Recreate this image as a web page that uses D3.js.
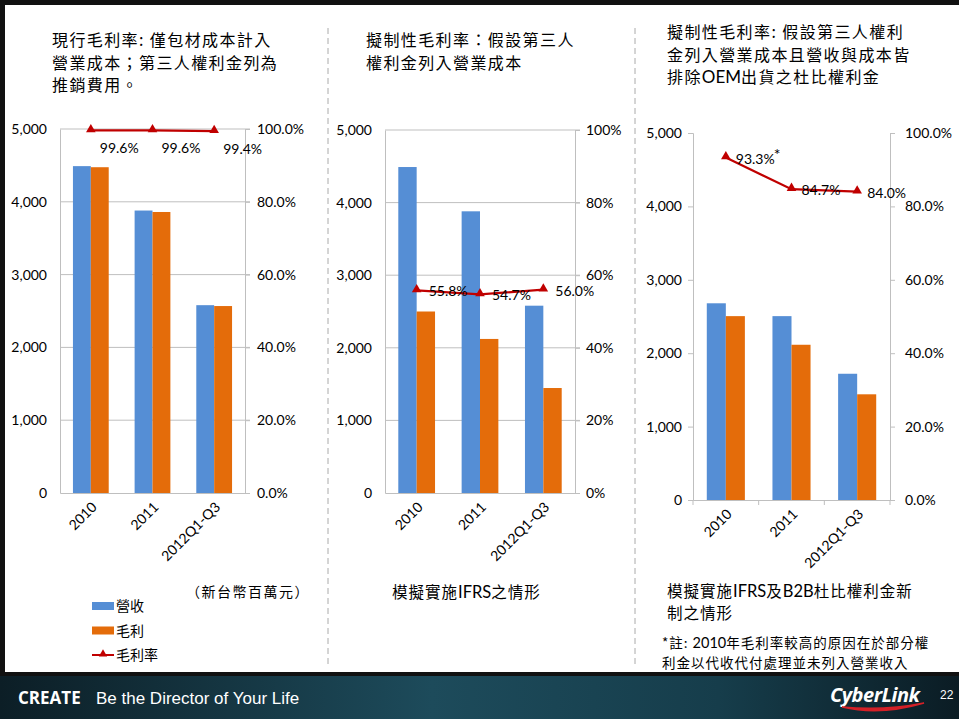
<!DOCTYPE html>
<html>
<head>
<meta charset="utf-8">
<script src="https://cdn.jsdelivr.net/npm/d3@7"></script>
<style>
  body { margin: 0; background: #fff; }
  svg { display: block; }
  .cjk { font-family: "Noto Sans CJK TC", "Noto Sans", sans-serif; }
  .num { font-family: Lato, "Open Sans", sans-serif; }
</style>
</head>
<body>
<div id="chart"></div>
<script>
// ---- data ----
var categories = ['2010', '2011', '2012Q1-Q3'];

var revenue1 = [4490, 3880, 2580];
var profit1 = [4475, 3860, 2568];
var rate1 = [0.996, 0.996, 0.994];
var rateLabels1 = ['99.6%', '99.6%', '99.4%'];

var revenue2 = [4490, 3880, 2580];
var profit2 = [2500, 2122, 1446];
var rate2 = [0.558, 0.547, 0.560];
var rateLabels2 = ['55.8%', '54.7%', '56.0%'];

var revenue3 = [2680, 2505, 1720];
var profit3 = [2505, 2115, 1440];
var rate3 = [0.933, 0.847, 0.840];
var rateLabels3 = ['93.3%', '84.7%', '84.0%'];

var leftTicks = [0, 1000, 2000, 3000, 4000, 5000];
var rightTicks = [0, 0.2, 0.4, 0.6, 0.8, 1.0];

var blue = '#558ED5', orange = '#E46C0A', red = '#C00000';

var svg = d3.select('#chart').append('svg')
  .attr('width', 959)
  .attr('height', 719);

svg.append('rect').attr('width', 959).attr('height', 719).attr('fill', '#fff');

// slide frame
svg.append('rect').attr('x', 0).attr('y', 0).attr('width', 959).attr('height', 5).attr('fill', '#111');
svg.append('rect').attr('x', 0).attr('y', 0).attr('width', 5).attr('height', 719).attr('fill', '#111');

// dashed separators
[328, 635].forEach(function (x) {
  svg.append('line')
    .attr('x1', x).attr('x2', x).attr('y1', 28).attr('y2', 668)
    .attr('stroke', '#aaa').attr('stroke-dasharray', '6,4');
});

function drawChart(cfg) {
  var g = svg.append('g');

  var x = d3.scaleBand().domain(categories)
    .range([cfg.x0, cfg.x1]).paddingInner(0.42).paddingOuter(0.21);
  var xs = d3.scaleBand().domain(['rev', 'gp']).range([0, x.bandwidth()]);
  var xc = d3.scalePoint().domain(categories).range([cfg.x0, cfg.x1]).padding(0.5);

  var y = d3.scaleLinear().domain([0, 5000]).range([cfg.yBot, cfg.yTop]);
  var y2 = d3.scaleLinear().domain([0, 1]).range([cfg.yBot, cfg.yTop]);

  if (cfg.grid) {
    g.selectAll('.grid').data(leftTicks.slice(1)).enter().append('line')
      .attr('x1', cfg.x0).attr('x2', cfg.x1 + 5)
      .attr('y1', function (d) { return y(d); }).attr('y2', function (d) { return y(d); })
      .attr('stroke', '#bfbfbf');
  }

  // left axis
  var la = g.append('g').attr('transform', 'translate(' + cfg.x0 + ',0)')
    .call(d3.axisLeft(y).tickValues(leftTicks).tickFormat(d3.format(',')).tickSize(cfg.grid ? 0 : 5).tickPadding(cfg.leftPad));
  la.select('.domain').attr('stroke', '#bfbfbf');
  la.selectAll('.tick line').attr('stroke', '#bfbfbf');
  la.selectAll('text').attr('class', 'num').style('font-size', '14px').attr('fill', '#000');

  // right axis
  var ra = g.append('g').attr('transform', 'translate(' + cfg.x1 + ',0)')
    .call(d3.axisRight(y2).tickValues(rightTicks).tickFormat(d3.format(cfg.rFmt)).tickSize(5).tickPadding(cfg.rightPad));
  ra.select('.domain').attr('stroke', '#bfbfbf');
  ra.selectAll('.tick line').attr('stroke', '#bfbfbf');
  ra.selectAll('text').attr('class', 'num').style('font-size', '14px').attr('fill', '#000');

  // bars
  categories.forEach(function (c, i) {
    g.append('rect').attr('x', x(c) + xs('rev')).attr('width', xs.bandwidth())
      .attr('y', y(cfg.rev[i])).attr('height', y(0) - y(cfg.rev[i])).attr('fill', blue);
    g.append('rect').attr('x', x(c) + xs('gp')).attr('width', xs.bandwidth())
      .attr('y', y(cfg.gp[i])).attr('height', y(0) - y(cfg.gp[i])).attr('fill', orange);
  });

  // x axis
  var xa = g.append('g').attr('transform', 'translate(0,' + cfg.yBot + ')')
    .call(d3.axisBottom(x).tickSize(0).tickPadding(0).tickFormat(''));
  xa.select('.domain').attr('stroke', '#bfbfbf');
  var step = x.step();
  if (cfg.xTicks) {
    d3.range(4).forEach(function (k) {
      g.append('line').attr('x1', cfg.x0 + k * step).attr('x2', cfg.x0 + k * step)
        .attr('y1', cfg.yBot).attr('y2', cfg.yBot + 5).attr('stroke', '#bfbfbf');
    });
  }
  g.selectAll('.xl').data(categories).enter().append('text')
    .attr('class', 'num').style('font-size', '14px')
    .attr('text-anchor', 'end')
    .attr('transform', function (d) {
      return 'translate(' + (xc(d) + 7) + ',' + (cfg.yBot + 15) + ') rotate(-45)';
    })
    .text(function (d) { return d; });

  // rate line
  var line = d3.line().x(function (d, i) { return xc(categories[i]); }).y(function (d) { return y2(d); });
  g.append('path').datum(cfg.rate).attr('d', line)
    .attr('fill', 'none').attr('stroke', red).attr('stroke-width', 2.2);
  g.selectAll('.mk').data(cfg.rate).enter().append('path')
    .attr('d', d3.symbol().type(d3.symbolTriangle).size(40))
    .attr('transform', function (d, i) { return 'translate(' + xc(categories[i]) + ',' + (y2(d) - 1) + ')'; })
    .attr('fill', red);
  g.selectAll('.dl').data(cfg.rate).enter().append('text')
    .attr('class', 'num').style('font-size', '14px')
    .attr('x', function (d, i) { return xc(categories[i]) + cfg.ldx; })
    .attr('y', function (d) { return y2(d) + cfg.ldy; })
    .text(function (d, i) { return cfg.labels[i]; });

  return { xc: xc, y2: y2 };
}

drawChart({ x0: 60, x1: 245, yTop: 129, yBot: 493, grid: true, leftPad: 13, rightPad: 7, rFmt: '.1%',
  rev: revenue1, gp: profit1, rate: rate1, labels: rateLabels1, ldx: 9, ldy: 23, xTicks: false });
drawChart({ x0: 385, x1: 575, yTop: 130, yBot: 493, grid: true, leftPad: 13, rightPad: 6, rFmt: '.0%',
  rev: revenue2, gp: profit2, rate: rate2, labels: rateLabels2, ldx: 12, ldy: 6, xTicks: false });
var c3 = drawChart({ x0: 693, x1: 890, yTop: 133, yBot: 500, grid: false, leftPad: 6, rightPad: 10, rFmt: '.1%',
  rev: revenue3, gp: profit3, rate: rate3, labels: rateLabels3, ldx: 10, ldy: 6, xTicks: true });

// asterisk on first label of chart 3
svg.append('text').attr('class', 'num').style('font-size', '16px')
  .attr('x', c3.xc(categories[0]) + 48).attr('y', c3.y2(rate3[0]) + 2).text('*');

// titles: letter-spacing only on CJK runs, Latin runs stay tight
function lines(txt, x, y0, dy, size, ls) {
  txt.forEach(function (t, i) {
    var el = svg.append('text').attr('class', 'cjk').style('font-size', size + 'px')
      .attr('x', x).attr('y', y0 + i * dy).attr('fill', '#000');
    var runs = t.match(/[A-Za-z0-9]+|[^A-Za-z0-9]+/g);
    runs.forEach(function (r) {
      var latin = /^[A-Za-z0-9]+$/.test(r);
      el.append('tspan')
        .style('letter-spacing', latin ? '0px' : ls + 'px')
        .style('font-family', latin ? 'Lato, "Open Sans", sans-serif' : null)
        .style('font-size', latin ? (size + 1) + 'px' : null)
        .text(r);
    });
  });
}
lines(['現行毛利率: 僅包材成本計入', '營業成本；第三人權利金列為', '推銷費用。'], 52, 46, 22.5, 16, 1.4);
lines(['擬制性毛利率：假設第三人', '權利金列入營業成本'], 366, 46, 22.5, 16, 1.4);
lines(['擬制性毛利率: 假設第三人權利', '金列入營業成本且營收與成本皆', '排除OEM出貨之杜比權利金'], 667, 38, 22.5, 16, 1.4);

lines(['模擬實施IFRS之情形'], 392, 598, 22, 15.5, 1);
lines(['模擬實施IFRS及B2B杜比權利金新', '制之情形'], 667, 597, 22, 15.5, 1);
lines(['*註: 2010年毛利率較高的原因在於部分權', '利金以代收代付處理並未列入營業收入'], 662, 648, 19.5, 13.5, 1);
lines(['（新台幣百萬元）'], 186, 597, 20, 14, 1.5);

// legend
var legend = [
  { name: '營收', color: blue, type: 'bar' },
  { name: '毛利', color: orange, type: 'bar' },
  { name: '毛利率', color: red, type: 'line' }
];
legend.forEach(function (d, i) {
  var ly = 606 + i * 24.5;
  if (d.type === 'bar') {
    svg.append('rect').attr('x', 92).attr('y', ly - 4).attr('width', 22).attr('height', 8).attr('fill', d.color);
  } else {
    svg.append('line').attr('x1', 92).attr('x2', 114).attr('y1', ly).attr('y2', ly)
      .attr('stroke', d.color).attr('stroke-width', 2);
    svg.append('path').attr('d', d3.symbol().type(d3.symbolTriangle).size(30))
      .attr('transform', 'translate(103,' + (ly - 1) + ')').attr('fill', d.color);
  }
  svg.append('text').attr('class', 'cjk').style('font-size', '14px')
    .attr('x', 116).attr('y', ly + 5).text(d.name);
});

// footer
var defs = svg.append('defs');
var grad = defs.append('linearGradient').attr('id', 'foot').attr('x1', '0').attr('x2', '1');
grad.append('stop').attr('offset', '0').attr('stop-color', '#0c1e26');
grad.append('stop').attr('offset', '0.45').attr('stop-color', '#1d4b5b');
grad.append('stop').attr('offset', '0.75').attr('stop-color', '#163d4b');
grad.append('stop').attr('offset', '1').attr('stop-color', '#0b1c24');
svg.append('rect').attr('x', 0).attr('y', 672).attr('width', 959).attr('height', 4).attr('fill', '#111');
svg.append('rect').attr('x', 0).attr('y', 676).attr('width', 959).attr('height', 43).attr('fill', 'url(#foot)');

svg.append('text').attr('x', 18).attr('y', 704)
  .style('font-family', '"Open Sans", sans-serif').style('font-size', '17px').style('font-weight', 'bold')
  .attr('fill', '#fff').text('CREATE');
svg.append('text').attr('x', 96).attr('y', 704)
  .style('font-family', '"Liberation Sans", sans-serif').style('font-size', '17px')
  .attr('fill', '#fff').text('Be the Director of Your Life');

svg.append('text').attr('x', 830).attr('y', 702)
  .style('font-family', '"Open Sans", sans-serif').style('font-size', '20px')
  .style('font-weight', 'bold').style('font-style', 'italic').style('letter-spacing', '-0.5px')
  .attr('fill', '#fff').text('CyberLink');
svg.append('path').attr('d', 'M842,707 Q880,716 924,703 Q884,711 842,707 Z')
  .attr('fill', '#d42027').attr('stroke', '#d42027').attr('stroke-width', 1.5);
svg.append('text').attr('x', 940).attr('y', 699)
  .style('font-family', '"Liberation Sans Narrow", "Liberation Sans", sans-serif').style('font-size', '12px')
  .attr('fill', '#fff').text('22');
</script>
</body>
</html>
